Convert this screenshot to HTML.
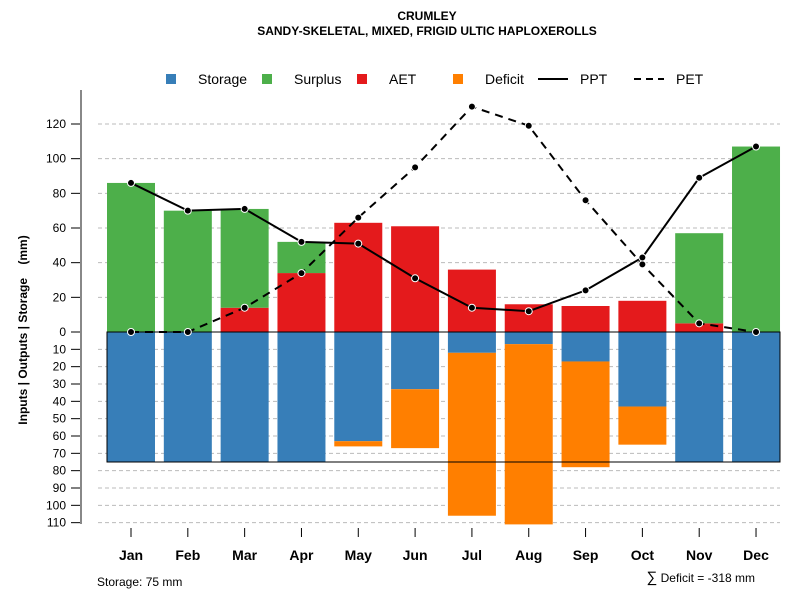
<!DOCTYPE html>
<html><head><meta charset="utf-8"><style>
body{margin:0;background:#fff}
svg text{font-family:"Liberation Sans",sans-serif}
</style></head><body>
<svg id="c" width="800" height="600" xmlns="http://www.w3.org/2000/svg">
<text x="427" y="20" text-anchor="middle" font-size="12" font-weight="bold">CRUMLEY</text>
<text x="427" y="35" text-anchor="middle" font-size="12" font-weight="bold">SANDY-SKELETAL, MIXED, FRIGID ULTIC HAPLOXEROLLS</text>
<g>
<rect x="166" y="74" width="10" height="10" fill="#377eb8"/>
<text x="198" y="84" font-size="14">Storage</text>
<rect x="262" y="74" width="10" height="10" fill="#4daf4a"/>
<text x="294" y="84" font-size="14">Surplus</text>
<rect x="357" y="74" width="10" height="10" fill="#e41a1c"/>
<text x="389" y="84" font-size="14">AET</text>
<rect x="453" y="74" width="10" height="10" fill="#ff7f00"/>
<text x="485" y="84" font-size="14">Deficit</text>
<line x1="538" y1="79" x2="568" y2="79" stroke="#000" stroke-width="2"/>
<text x="580" y="84" font-size="14">PPT</text>
<line x1="634" y1="79" x2="664" y2="79" stroke="#000" stroke-width="2" stroke-dasharray="7,5"/>
<text x="676" y="84" font-size="14">PET</text>
</g>
<text transform="translate(27,330) rotate(-90)" text-anchor="middle" font-size="12" font-weight="bold">Inputs | Outputs | Storage&#160;&#160;&#160;&#160;(mm)</text>
<g id="plot"></g>
<text x="97" y="586" font-size="12">Storage: 75 mm</text>
<text x="755" y="582" text-anchor="end" font-size="12"><tspan font-size="15">∑</tspan> Deficit = -318 mm</text>
</svg>
<script>
const months=["Jan","Feb","Mar","Apr","May","Jun","Jul","Aug","Sep","Oct","Nov","Dec"];
const storage=[75,75,75,75,63,33,12,7,17,43,75,75];
const deficit=[0,0,0,0,3,34,94,104,61,22,0,0];
const aet=[0,0,14,34,63,61,36,16,15,18,5,0];
const surplus=[86,70,57,18,0,0,0,0,0,0,52,107];
const ppt=[86,70,71,52,51,31,14,12,24,43,89,107];
const pet=[0,0,14,34,66,95,130,119,76,39,5,0];
const posTicks=[0,20,40,60,80,100,120];
const negTicks=[10,20,30,40,50,60,70,80,90,100,110];
const maxStorage=75;

const NS="http://www.w3.org/2000/svg";
const g=document.getElementById("plot");
const y0=332,k=1.7333;
const yPos=v=>y0-v*k;
const yNeg=v=>y0+v*k;
const xC=i=>131+i*56.82;
const bw=48;
function el(t,a){const e=document.createElementNS(NS,t);for(const n in a)e.setAttribute(n,a[n]);g.appendChild(e);return e;}
posTicks.forEach(v=>{const y=yPos(v);
 if(v>0){const l=el("line",{x1:98,x2:780,y1:y,y2:y,stroke:"#bbb","stroke-dasharray":"4,3"});
 
 }
 const t=el("line",{x1:71,x2:81,y1:y,y2:y,stroke:"#000"});
 
 
 const tx=el("text",{x:66,y:y+4,"text-anchor":"end","font-size":12});tx.textContent=v;
 
 
});
negTicks.forEach(v=>{const y=yNeg(v);
 const l=el("line",{x1:98,x2:780,y1:y,y2:y,stroke:"#bbb","stroke-dasharray":"4,3"});
 
 
 const t=el("line",{x1:71,x2:81,y1:y,y2:y,stroke:"#000"});
 
 
 const tx=el("text",{x:66,y:y+4,"text-anchor":"end","font-size":12});tx.textContent=v;
 
 
});
const ax=el("line",{x1:81,x2:81,y1:90,y2:524,stroke:"#888","stroke-width":2});


months.forEach((m,i)=>{const x=xC(i)-bw/2;
 let r=el("rect",{x:x,y:y0,width:bw,height:storage[i]*k,fill:"#377eb8"});
 
 
 r=el("rect",{x:x,y:yNeg(storage[i]),width:bw,height:deficit[i]*k,fill:"#ff7f00"});
 
 
 r=el("rect",{x:x,y:yPos(aet[i]),width:bw,height:aet[i]*k,fill:"#e41a1c"});
 
 
 r=el("rect",{x:x,y:yPos(aet[i]+surplus[i]),width:bw,height:surplus[i]*k,fill:"#4daf4a"});
 
 
 const t=el("line",{x1:xC(i),x2:xC(i),y1:528,y2:537,stroke:"#000"});
 
 
 const tx=el("text",{x:xC(i),y:560,"text-anchor":"middle","font-size":14,"font-weight":"bold"});tx.textContent=m;
 
 
});
const box=el("rect",{x:107,y:y0,width:673,height:maxStorage*k,fill:"none",stroke:"#000","stroke-width":1});


function series(arr,name,dash){
 const p=el("polyline",{points:arr.map((v,i)=>xC(i)+","+yPos(v)).join(" "),fill:"none",stroke:"#000","stroke-width":2,"stroke-dasharray":dash});
 
 
 arr.forEach((v,i)=>{const c=el("circle",{cx:xC(i),cy:yPos(v),r:3.5,fill:"#000",stroke:"#fff","stroke-width":1});
 
 });
}
series(pet,"pet","8,6");
series(ppt,"ppt","none");
</script>
</body></html>
